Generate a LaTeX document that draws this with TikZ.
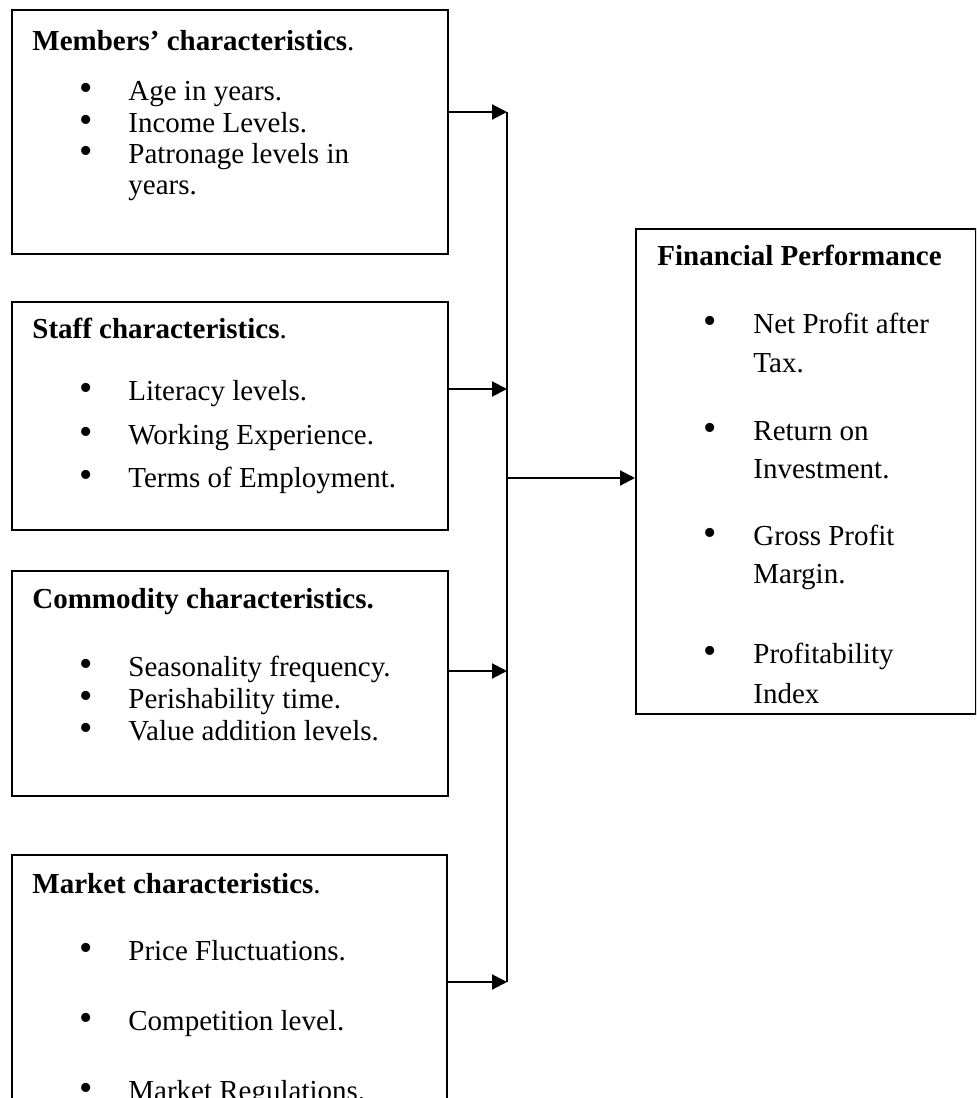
\documentclass[tikz,border=0pt]{standalone}
\usepackage{fontspec}
\setmainfont{Liberation Serif}
\usetikzlibrary{arrows.meta}

\newcommand\bodysize{\fontsize{14.5pt}{17pt}\selectfont}

\tikzset{
  box/.style={draw, line width=1pt, anchor=north west, inner sep=0pt},
  head/.style={anchor=base west, inner sep=0pt, font=\bodysize\bfseries},
  item/.style={anchor=base west, inner sep=0pt, font=\bodysize},
  dot/.style={anchor=base, inner sep=0pt, font=\fontsize{19pt}{19pt}\selectfont},
  flow/.style={-{Triangle[length=7.5pt,width=7.5pt]}, line width=1pt},
}

\begin{document}
\begin{tikzpicture}[x=0.5pt,y=-0.5pt]
\clip (0,0) rectangle (976,1098);

% boxes
\node[box, minimum width=218pt, minimum height=122pt] (members) at (11,9) {};
\node[box, minimum width=218pt, minimum height=114pt] (staff) at (11,301) {};
\node[box, minimum width=218pt, minimum height=112.5pt] (commodity) at (11,570) {};
\node[box, minimum width=217.5pt, minimum height=200pt] (market) at (11,854) {};
\node[box, minimum width=170pt, minimum height=242.5pt] (perf) at (635,228) {};

% members
\node[head] (mh) at (32,50) {Members’ characteristics\mdseries.};
\node[dot] (md1) at (86,100) {\textbullet};
\node[item] (m1) at (128,100) {Age in years.};
\node[dot] (md2) at (86,132) {\textbullet};
\node[item] (m2) at (128,132) {Income Levels.};
\node[dot] (md3) at (86,163) {\textbullet};
\node[item] (m3) at (128,163) {Patronage levels in};
\node[item] (m4) at (128,194) {years.};

% staff
\node[head] (sh) at (32,338) {Staff characteristics\mdseries.};
\node[dot] (sd1) at (86,400) {\textbullet};
\node[item] (s1) at (128,400) {Literacy levels.};
\node[dot] (sd2) at (86,444) {\textbullet};
\node[item] (s2) at (128,444) {Working Experience.};
\node[dot] (sd3) at (86,487) {\textbullet};
\node[item] (s3) at (128,487) {Terms of Employment.};

% commodity
\node[head] (ch) at (32,608) {Commodity characteristics.};
\node[dot] (cd1) at (86,676) {\textbullet};
\node[item] (c1) at (128,676) {Seasonality frequency.};
\node[dot] (cd2) at (86,708) {\textbullet};
\node[item] (c2) at (128,708) {Perishability time.};
\node[dot] (cd3) at (86,740) {\textbullet};
\node[item] (c3) at (128,740) {Value addition levels.};

% market
\node[head] (kh) at (32,893) {Market characteristics\mdseries.};
\node[dot] (kd1) at (86,960) {\textbullet};
\node[item] (k1) at (128,960) {Price Fluctuations.};
\node[dot] (kd2) at (86,1030) {\textbullet};
\node[item] (k2) at (128,1030) {Competition level.};
\node[dot] (kd3) at (86,1100) {\textbullet};
\node[item] (k3) at (128,1100) {Market Regulations.};

% financial performance
\node[head] (ph) at (657,265) {Financial Performance};
\node[dot] (pd1) at (710,333) {\textbullet};
\node[item] (p1) at (753,333) {Net Profit after};
\node[item] (p2) at (753,372) {Tax.};
\node[dot] (pd2) at (710,440) {\textbullet};
\node[item] (p3) at (753,440) {Return on};
\node[item] (p4) at (753,478) {Investment.};
\node[dot] (pd3) at (710,545) {\textbullet};
\node[item] (p5) at (753,545) {Gross Profit};
\node[item] (p6) at (753,583) {Margin.};
\node[dot] (pd4) at (710,663) {\textbullet};
\node[item] (p7) at (753,663) {Profitability};
\node[item] (p8) at (753,703) {Index};

% collecting line
\coordinate (bustop) at (507,112);
\coordinate (j2) at (507,389);
\coordinate (jout) at (507,478);
\coordinate (j3) at (507,671);
\coordinate (busbot) at (507,982);
\draw[line width=0.75pt] (bustop) -- (busbot);

\draw[flow] (members.east |- bustop) -- (bustop);
\draw[flow] (staff.east |- j2) -- (j2);
\draw[flow] (commodity.east |- j3) -- (j3);
\draw[flow] (market.east |- busbot) -- (busbot);
\draw[flow] (jout) -- (perf.west |- jout);
\end{tikzpicture}
\end{document}
